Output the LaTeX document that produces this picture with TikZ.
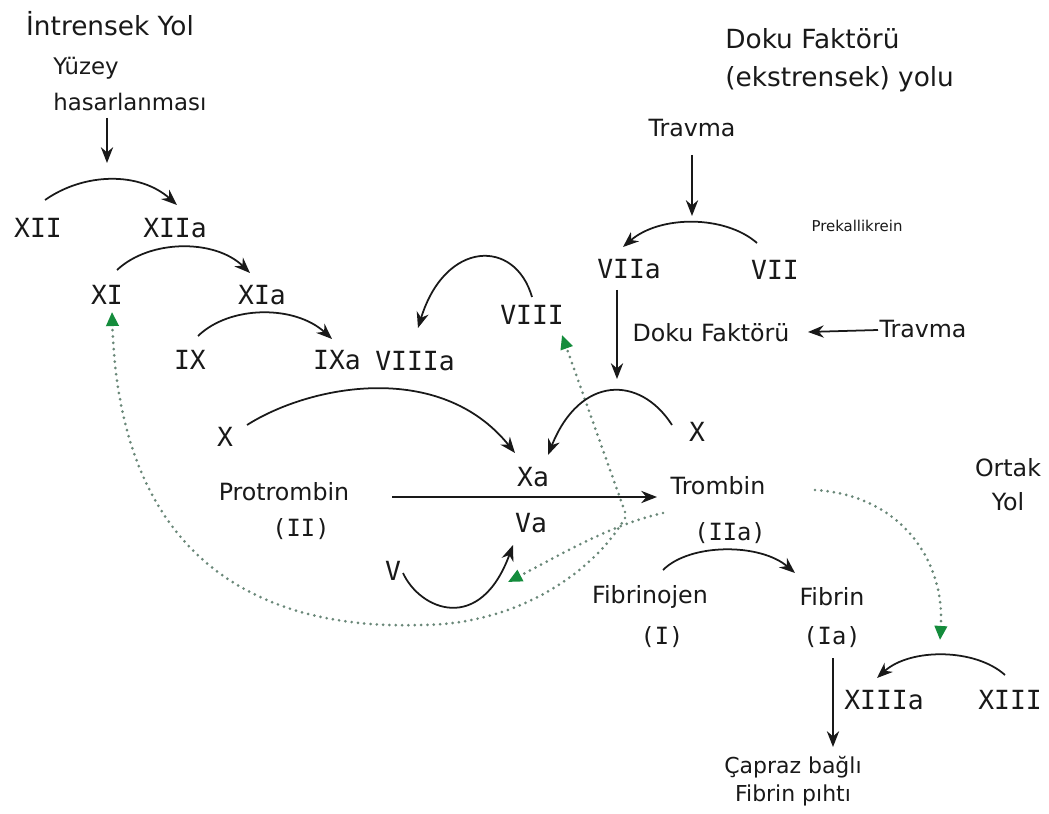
\documentclass[tikz,border=0pt]{standalone}
\usepackage{fontspec}
\setmainfont{DejaVu Sans}
\newfontfamily\monofam{DejaVu Sans Mono}
\usetikzlibrary{arrows.meta}
\definecolor{dotc}{RGB}{105,135,120}
\definecolor{tipg}{RGB}{20,140,60}
\definecolor{ink}{RGB}{25,25,25}
\begin{document}
\begin{tikzpicture}[x=0.02cm,y=-0.02cm,
  txt/.style={font=\fontsize{13.5}{16}\selectfont,inner sep=0pt,text=ink},
  ttl/.style={font=\fontsize{15}{21.6}\selectfont,inner sep=0pt,text=ink},
  num/.style={font=\monofam\fontsize{15}{18}\selectfont,inner sep=0pt,text=ink},
  pnum/.style={font=\monofam\fontsize{13.5}{16}\selectfont,inner sep=0pt,text=ink},
  arr/.style={draw=ink,line width=1pt,-{Stealth[length=9pt,width=7pt]}},
  garr/.style={draw=dotc,line width=1.7pt,line cap=round,dash pattern=on 0pt off 3.6pt,
    -{Triangle[color=tipg,fill=tipg,length=8pt,width=7pt]}}]
\fill[white] (0,0) rectangle (1049,814);
\useasboundingbox (0,0) rectangle (1049,814);

% ---- titles and labels
\node[ttl] (intr) at (110,24) {İntrensek Yol};
\node[txt,font=\fontsize{13}{20.5}\selectfont,anchor=west,align=left] (yuz) at (53,84) {Yüzey\\hasarlanması};
\node[ttl,anchor=west,align=left] (ekst) at (725,60) {Doku Faktörü\\(ekstrensek) yolu};
\node[txt] (tr1) at (692,128) {Travma};
\node[inner sep=0pt,font=\fontsize{8.5}{10}\selectfont,text=ink] (prek) at (857,226) {Prekallikrein};
\node[txt] (doku) at (711,333) {Doku Faktörü};
\node[txt] (tr2) at (923,329) {Travma};
\node[txt] (protr) at (284,492) {Protrombin};
\node[txt] (trombin) at (718,486) {Trombin};
\node[txt] (fibrinojen) at (650,597) {Fibrinojen};
\node[txt] (fibrin) at (832,597) {Fibrin};
\node[txt,font=\fontsize{12.5}{16}\selectfont,align=center] (capraz) at (793,781) {Çapraz bağlı\\Fibrin pıhtı};
\node[txt,align=center,font=\fontsize{13.5}{19.4}\selectfont] (ortak) at (1008,485) {Ortak\\Yol};

% ---- factors
\node[num] (XII) at (38,228) {XII};
\node[num] (XIIa) at (175,228) {XIIa};
\node[num] (XI) at (107,295) {XI};
\node[num] (XIa) at (262,295) {XIa};
\node[num] (IX) at (190,360) {IX};
\node[num] (IXa) at (337,360) {IXa};
\node[num] (VIIIa) at (415,361) {VIIIa};
\node[num] (VIII) at (532,315) {VIII};
\node[num] (VIIa) at (629,269) {VIIa};
\node[num] (VII) at (775,270) {VII};
\node[num] (Xl) at (225,437) {X};
\node[num] (Xr) at (697,432) {X};
\node[num] (Xa) at (533,477) {Xa};
\node[num] (Va) at (531,523) {Va};
\node[num] (V) at (393,571) {V};
\node[pnum] (II) at (301,529) {(II)};
\node[pnum] (IIa) at (730,533) {(IIa)};
\node[pnum] (I) at (662,637) {(I)};
\node[pnum] (Ia) at (832,637) {(Ia)};
\node[num] (XIIIa) at (884,700) {XIIIa};
\node[num] (XIII) at (1010,700) {XIII};

\coordinate (yend) at (107,163);
\coordinate (t1end) at (692,216);
\coordinate (v7end) at (617,379);

% ---- dotted feedback arrows (thrombin)
\draw[garr] ([shift={(-93,26)}]trombin.center) -- ([shift={(30,20)}]VIII.center);
\draw[garr] ([shift={(-55,27)}]trombin.center) .. controls (610,525) and (560,555) .. ([shift={(-23,59)}]Va.center);
\draw[garr] ([shift={(-93,32)}]trombin.center) .. controls (595,570) and (520,625) .. (420,625)
   .. controls (260,630) and (120,560) .. ([shift={(5,17)}]XI.center);
\draw[garr] ([shift={(97,4)}]trombin.center) .. controls (900,495) and (945,560) .. ([shift={(56,-60)}]XIIIa.center);

% ---- solid arrows
\draw[arr] ([shift={(54,34)}]yuz.west) -- (yend);
\draw[arr] ([shift={(7,-28)}]XII.center) .. controls (85,172) and (140,172) .. ([shift={(2,-23)}]XIIa.center);
\draw[arr] ([shift={(10,-25)}]XI.center) .. controls (150,239) and (215,239) .. ([shift={(-12,-22)}]XIa.center);
\draw[arr] ([shift={(8,-24)}]IX.center) .. controls (230,305) and (295,305) .. ([shift={(-5,-21)}]IXa.center);
\draw[arr] ([shift={(0,-18)}]VIII.center) .. controls (515,238) and (445,240) .. ([shift={(3,-33)}]VIIIa.center);
\draw[arr] ([shift={(0,27)}]tr1.center) -- (t1end);
\draw[arr] ([shift={(-18,-27)}]VII.center) .. controls (725,215) and (660,215) .. ([shift={(-6,-22)}]VIIa.center);
\draw[arr] ([shift={(-12,21)}]VIIa.center) -- (v7end);
\draw[arr] ([shift={(-45,1)}]tr2.center) -- ([shift={(97,-1)}]doku.center);
\draw[arr] ([shift={(-25,-7)}]Xr.center) .. controls (640,375) and (580,375) .. ([shift={(15,-22)}]Xa.center);
\draw[arr] ([shift={(22,-12)}]Xl.center) .. controls (310,385) and (440,360) .. ([shift={(-18,-24)}]Xa.center);
\draw[arr] ([shift={(108,5)}]protr.center) -- ([shift={(-61,11)}]trombin.center);
\draw[arr] ([shift={(10,2)}]V.center) .. controls (420,610) and (480,635) .. ([shift={(-18,22)}]Va.center);
\draw[arr] ([shift={(13,-27)}]fibrinojen.center) .. controls (690,543) and (760,543) .. ([shift={(-37,-24)}]fibrin.center);
\draw[arr] ([shift={(1,21)}]Ia.center) -- ([shift={(40,-34)}]capraz.center);
\draw[arr] ([shift={(-5,-25)}]XIII.center) .. controls (975,648) and (910,648) .. ([shift={(-7,-22)}]XIIIa.center);
\end{tikzpicture}
\end{document}
